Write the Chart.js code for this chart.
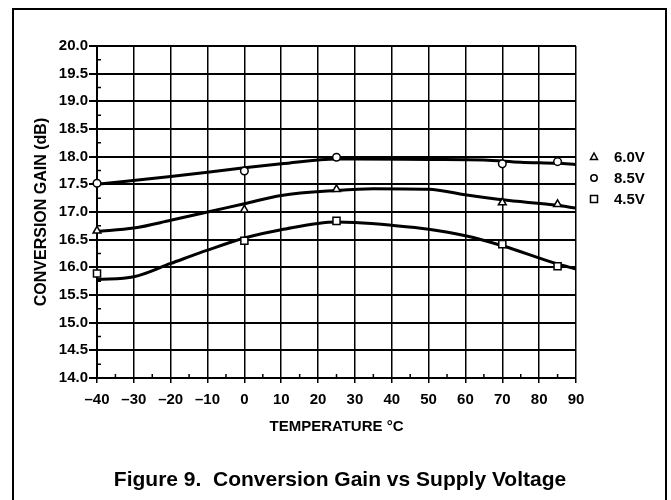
<!DOCTYPE html>
<html>
<head>
<meta charset="utf-8">
<script src="https://cdn.jsdelivr.net/npm/chart.js@4.4.1/dist/chart.umd.min.js"></script>
<style>
    html, body { margin: 0; padding: 0; background: #fff; }
</style>
</head>
<body>
<canvas id="chart_gain" width="671" height="500"></canvas>
<script>
/* ----------------------------------------------------------------------------
                                     DATA
---------------------------------------------------------------------------- */
var tempTicks = [-40, -30, -20, -10, 0, 10, 20, 30, 40, 50, 60, 70, 80, 90];
var gainTicks = [14.0, 14.5, 15.0, 15.5, 16.0, 16.5, 17.0, 17.5, 18.0, 18.5, 19.0, 19.5, 20.0];

// measured points
var markerTemps = [-40, 0, 25, 70, 85];
var gain60 = [16.66, 17.04, 17.41, 17.17, 17.14];
var gain85 = [17.52, 17.74, 17.99, 17.87, 17.91];
var gain45 = [15.89, 16.48, 16.84, 16.42, 16.02];

// fitted curves
var fit85Temps = [-40, -20, 0, 10, 25, 30, 50, 65, 75, 85, 90];
var fit85Gain = [17.50, 17.64, 17.80, 17.87, 17.96, 17.96, 17.95, 17.94, 17.90, 17.88, 17.86];
var fit60Temps = [-40, -30, -20, -10, 0, 10, 25, 35, 50, 60, 70, 85, 90];
var fit60Gain = [16.65, 16.71, 16.85, 17.00, 17.15, 17.30, 17.39, 17.42, 17.41, 17.31, 17.22, 17.12, 17.07];
var fit45Temps = [-40, -30, -20, -10, 0, 10, 25, 30, 40, 50, 60, 70, 85, 90];
var fit45Gain = [15.78, 15.83, 16.07, 16.31, 16.53, 16.68, 16.82, 16.81, 16.76, 16.69, 16.57, 16.39, 16.06, 15.97];

var legendNames = ['6.0V', '8.5V', '4.5V'];
var legendStyles = ['triangle', 'circle', 'rect'];

/* ----------------------------------------------------------------------------
                                    INIT
---------------------------------------------------------------------------- */
var ink = '#000';
var tickFont = { family: "'Liberation Sans', Arial, sans-serif", size: 15, weight: 'bold' };

function toPoints(xs, ys) {
    return xs.map(function(x, i) { return { x: x, y: ys[i] }; });
}

function curve(xs, ys) {
    return {
        data: toPoints(xs, ys),
        showLine: true,
        borderColor: ink,
        borderWidth: 3,
        pointRadius: 0,
        cubicInterpolationMode: 'monotone',
        order: 2
    };
}

function markers(ys, style, radius) {
    return {
        data: toPoints(markerTemps, ys),
        showLine: false,
        clip: false,
        pointStyle: style,
        pointRadius: radius,
        pointBackgroundColor: '#fff',
        pointBorderColor: ink,
        pointBorderWidth: 1.5,
        order: 1
    };
}

// frame, minor ticks, legend and caption ------------------------------------
var decorations = {
    id: 'decorations',
    beforeDraw: function(chart) {
        var ctx = chart.ctx;
        ctx.save();
        ctx.fillStyle = '#fff';
        ctx.fillRect(0, 0, chart.width, chart.height);
        ctx.strokeStyle = ink;
        ctx.lineWidth = 2;
        ctx.strokeRect(13, 9, 653, 520);
        ctx.restore();
    },
    afterDraw: function(chart) {
        var ctx = chart.ctx;
        var xs = chart.scales.x, ys = chart.scales.y;
        var area = chart.chartArea;
        ctx.save();
        ctx.strokeStyle = ink;
        ctx.lineWidth = 1.5;
        ctx.beginPath();
        for (var v = 14.25; v < 20; v += 0.5) {
            var py = ys.getPixelForValue(v);
            ctx.moveTo(area.left, py);
            ctx.lineTo(area.left + 4, py);
        }
        for (var t = -35; t < 90; t += 10) {
            var px = xs.getPixelForValue(t);
            ctx.moveTo(px, area.bottom);
            ctx.lineTo(px, area.bottom - 4);
        }
        ctx.stroke();

        // legend
        ctx.fillStyle = ink;
        ctx.font = 'bold 15px "Liberation Sans", Arial, sans-serif';
        ctx.textBaseline = 'middle';
        ctx.textAlign = 'left';
        for (var i = 0; i < legendNames.length; i++) {
            var ly = 157 + i * 21;
            var lx = 594;
            ctx.lineWidth = 1.5;
            ctx.beginPath();
            if (legendStyles[i] == 'triangle') {
                ctx.moveTo(lx, ly - 4);
                ctx.lineTo(lx + 3.5, ly + 2.5);
                ctx.lineTo(lx - 3.5, ly + 2.5);
                ctx.closePath();
            } else if (legendStyles[i] == 'circle') {
                ctx.arc(lx, ly, 3.2, 0, Math.PI * 2);
            } else {
                ctx.rect(lx - 3.5, ly - 3.5, 7, 7);
            }
            ctx.stroke();
            ctx.fillText(legendNames[i], 614, ly + 1);
        }

        // caption
        ctx.textAlign = 'center';
        ctx.font = 'bold 21px "Liberation Sans", Arial, sans-serif';
        ctx.fillText('Figure 9.  Conversion Gain vs Supply Voltage', 340, 480);
        ctx.restore();
    }
};

/* ----------------------------------------------------------------------------
                                    MAIN
---------------------------------------------------------------------------- */
const ctx_gain = document.getElementById('chart_gain').getContext('2d');

const chartGain = new Chart(ctx_gain, {
    type: 'scatter',
    data: {
        datasets: [
            markers(gain60, 'triangle', 4.5),
            markers(gain85, 'circle', 3.8),
            markers(gain45, 'rect', 5),
            curve(fit85Temps, fit85Gain),
            curve(fit60Temps, fit60Gain),
            curve(fit45Temps, fit45Gain)
        ]
    },
    options: {
        responsive: false,
        animation: false,
        layout: {
            padding: { left: 0, top: 46, right: 95, bottom: 0 }
        },
        plugins: {
            legend: { display: false },
            tooltip: { enabled: false }
        },
        scales: {
            x: {
                type: 'linear',
                min: -40,
                max: 90,
                afterBuildTicks: function(scale) {
                    scale.ticks = tempTicks.map(function(v) { return { value: v }; });
                },
                afterFit: function(scale) { scale.height = 122; },
                grid: { color: ink, lineWidth: 1.5, tickLength: 5 },
                border: { color: ink, width: 2 },
                ticks: {
                    color: ink,
                    font: tickFont,
                    padding: 8,
                    maxRotation: 0,
                    callback: function(v) { return v < 0 ? '\u2013' + Math.abs(v) : String(v); }
                },
                title: {
                    display: true,
                    text: 'TEMPERATURE \u00B0C',
                    color: ink,
                    font: { family: "'Liberation Sans', Arial, sans-serif", size: 15, weight: 'bold' },
                    padding: { top: 0, bottom: 64 }
                }
            },
            y: {
                min: 14,
                max: 20,
                afterBuildTicks: function(scale) {
                    scale.ticks = gainTicks.map(function(v) { return { value: v }; });
                },
                afterFit: function(scale) { scale.width = 97; },
                grid: { color: ink, lineWidth: 2, tickLength: 8 },
                border: { color: ink, width: 2 },
                ticks: {
                    color: ink,
                    font: tickFont,
                    padding: 1,
                    callback: function(v) { return Number(v).toFixed(1); }
                },
                title: {
                    display: true,
                    text: 'CONVERSION GAIN (dB)',
                    color: ink,
                    font: { family: "'Liberation Sans', Arial, sans-serif", size: 16, weight: 'bold' },
                    padding: { top: 32, bottom: 0 }
                }
            }
        }
    },
    plugins: [decorations]
});
</script>
</body>
</html>
